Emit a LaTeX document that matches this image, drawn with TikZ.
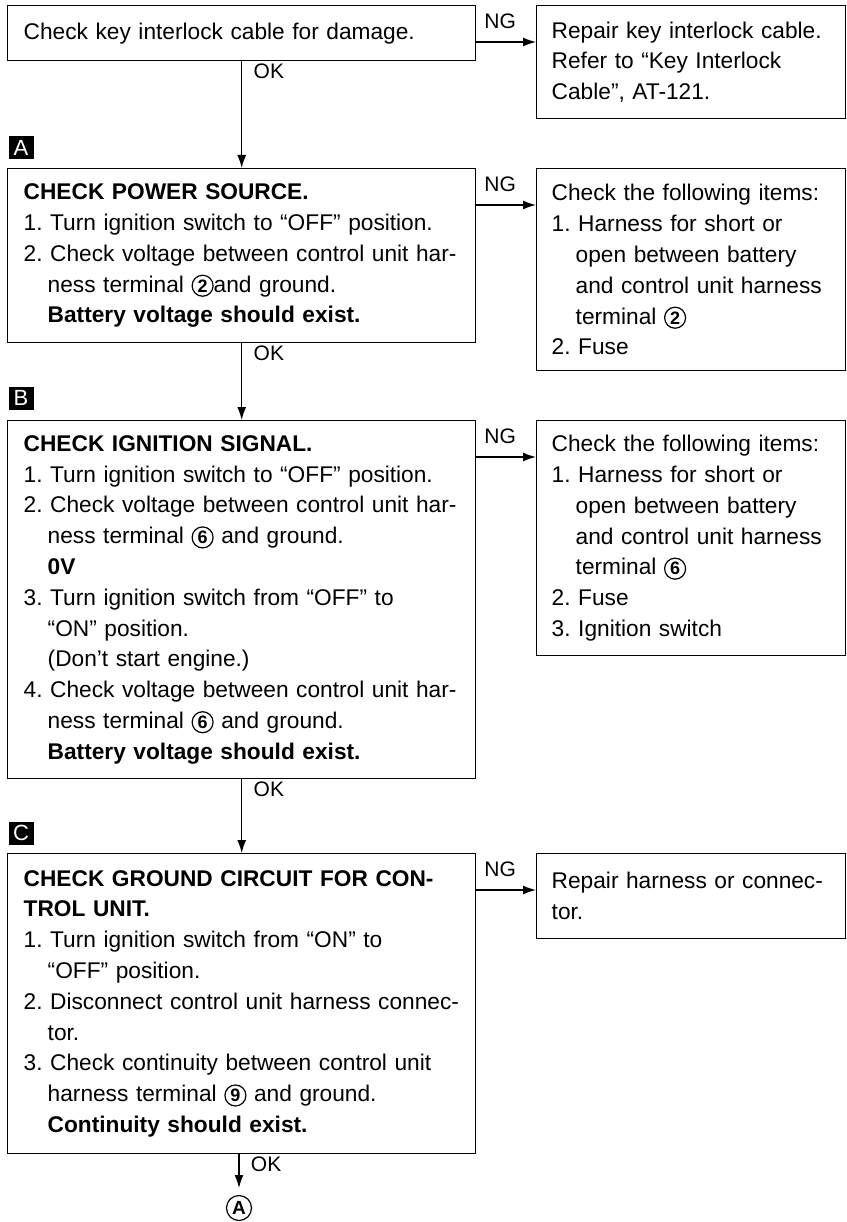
\documentclass[tikz,border=0pt]{standalone}
\usepackage{fontspec}
\setmainfont{Liberation Sans}
\usetikzlibrary{arrows.meta, positioning}
\frenchspacing
\newcommand{\ind}{\hspace*{24pt}}
\newcommand{\cnum}[1]{\tikz[baseline=(cn.base)]{\node[inner sep=0pt, anchor=center, minimum width=0pt, minimum height=0pt, text width=, font=\fontsize{18}{18}\selectfont\bfseries] (cn) {#1};
  \draw[line width=1.2pt] (cn.center) circle (10.5pt);}}

\begin{document}
\begin{tikzpicture}[x=1pt, y={(0pt,-1pt)},
  box/.style={draw, line width=1.4pt, anchor=north west, align=left, font=\fontsize{22.7}{30.8}\selectfont},
  mainbox/.style={box, inner xsep=16pt, text width=436pt, minimum width=468pt},
  fixbox/.style={box, inner xsep=15pt, text width=279pt, minimum width=309pt},
  tag/.style={fill=black, text=white, inner sep=0pt, minimum width=25pt, minimum height=23pt, font=\fontsize{22}{22}\selectfont},
  okline/.style={line width=1.3pt, -{Latex[length=13pt, width=9pt]}},
  ngline/.style={okline},
  lbl/.style={font=\fontsize{21}{21}\selectfont},
  oklbl/.style={lbl, pos=0, anchor=north west, xshift=8pt, yshift=2pt},
  nglbl/.style={lbl, pos=0.4, above=9pt}]
  \useasboundingbox (0,0) rectangle (846,1222);

  % left column: checks
  \node[mainbox, minimum height=55pt] (chk) at (7,5) {Check key interlock cable for damage.};
  \node[mainbox, minimum height=174pt] (pwr) at (7,168) {\textbf{CHECK POWER SOURCE.}\\
    1. Turn ignition switch to “OFF” position.\\
    2. Check voltage between control unit har-\\
    \ind ness terminal \cnum{2}and ground.\\
    \ind\textbf{Battery voltage should exist.}};
  \node[mainbox, minimum height=358pt] (ign) at (7,420) {\textbf{CHECK IGNITION SIGNAL.}\\
    1. Turn ignition switch to “OFF” position.\\
    2. Check voltage between control unit har-\\
    \ind ness terminal \cnum{6} and ground.\\
    \ind\textbf{0V}\\
    3. Turn ignition switch from “OFF” to\\
    \ind “ON” position.\\
    \ind (Don’t start engine.)\\
    4. Check voltage between control unit har-\\
    \ind ness terminal \cnum{6} and ground.\\
    \ind\textbf{Battery voltage should exist.}};
  \node[mainbox, minimum height=300pt] (gnd) at (7,853) {\textbf{CHECK GROUND CIRCUIT FOR CON-}\\
    \textbf{TROL UNIT.}\\
    1. Turn ignition switch from “ON” to\\
    \ind “OFF” position.\\
    2. Disconnect control unit harness connec-\\
    \ind tor.\\
    3. Check continuity between control unit\\
    \ind harness terminal \cnum{9} and ground.\\
    \ind\textbf{Continuity should exist.}};

  % right column: repairs
  \node[fixbox, minimum height=113pt] (rep1) at (536,5) {Repair key interlock cable.\\
    Refer to “Key Interlock\\
    Cable”, AT-121.};
  \node[fixbox, minimum height=202pt] (repA) at (536,168) {Check the following items:\\
    1. Harness for short or\\
    \ind open between battery\\
    \ind and control unit harness\\
    \ind terminal \cnum{2}\\
    2. Fuse};
  \node[fixbox, minimum height=235pt] (repB) at (536,420) {Check the following items:\\
    1. Harness for short or\\
    \ind open between battery\\
    \ind and control unit harness\\
    \ind terminal \cnum{6}\\
    2. Fuse\\
    3. Ignition switch};
  \node[fixbox, minimum height=85pt] (repC) at (536,853) {Repair harness or connec-\\
    tor.};

  \foreach \t/\y in {A/148, B/398, C/833}
    \node[tag] (tag\t) at (21,\y) {\t};

  \node[inner sep=0pt, font=\fontsize{19}{19}\selectfont\bfseries] (gotoA) at (239,1208) {A};
  \draw[line width=1.2pt] (gotoA.center) circle (12.5pt);

  \foreach \a/\b in {chk/pwr, pwr/ign, ign/gnd}
    \draw[okline] (\a) -- (\b) node[oklbl] {OK};
  \draw[okline] (gotoA |- gnd.south) -- ([yshift=20pt]gotoA.center) node[oklbl] {OK};

  \foreach \a/\b in {chk/rep1, pwr/repA, ign/repB, gnd/repC}
    \draw[ngline] ([yshift=-37pt]\a.north east) -- ([yshift=-37pt]\b.north west) node[nglbl] {NG};
\end{tikzpicture}
\end{document}
